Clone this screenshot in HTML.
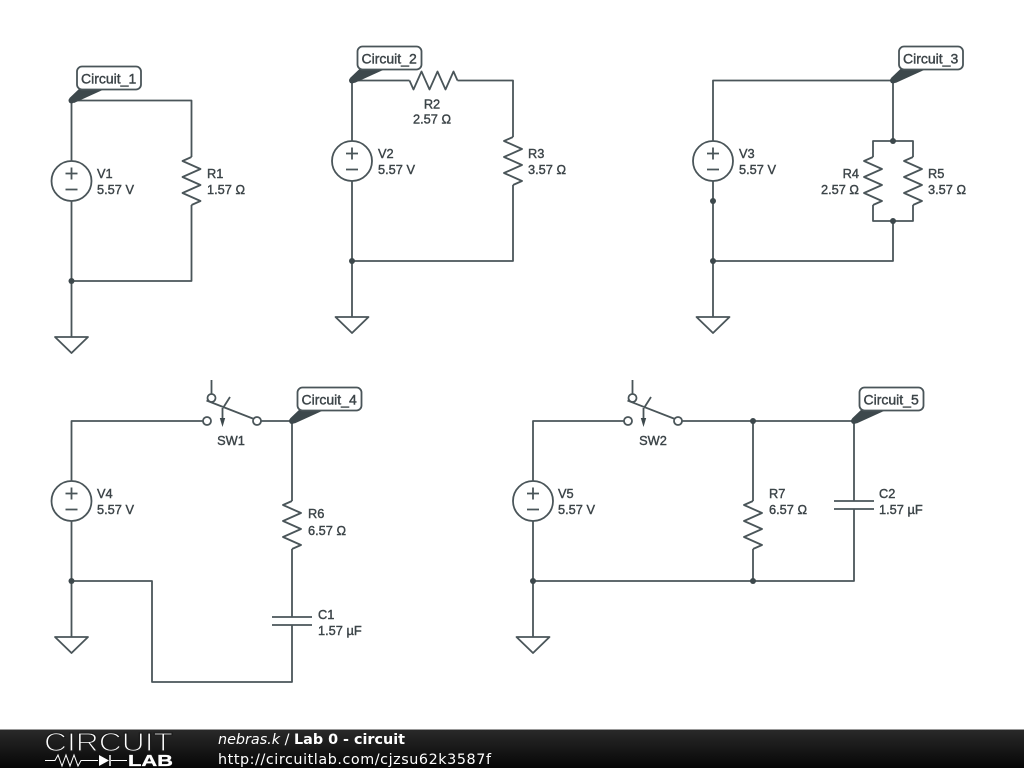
<!DOCTYPE html>
<html><head><meta charset="utf-8"><title>Lab 0 - circuit</title>
<style>
html,body{margin:0;padding:0;background:#fff;width:1024px;height:768px;overflow:hidden}
svg{display:block}
.w{fill:none;stroke:#4a5559;stroke-width:1.8;stroke-linejoin:round}
.d{fill:#3d484c}
.l{font:12.8px "Liberation Sans",sans-serif;fill:#3c4448;stroke:#3c4448;stroke-width:.4}
.c{font:14px "Liberation Sans",sans-serif;fill:#3c4448;stroke:#3c4448;stroke-width:.4}
.b{fill:#fff;stroke:#4a5559;stroke-width:1.8}
.f{font-family:"DejaVu Sans",sans-serif;font-size:14.35px;fill:#fff}
</style></head><body>
<svg width="1024" height="768" viewBox="0 0 1024 768" xmlns="http://www.w3.org/2000/svg">
<defs>
<g id="v"><circle class="w" r="20"/><path class="w" d="M-6-7.500H6M0-13.500V-1.500M-6 8.500H6"/></g>
<polyline id="rv" class="w" points="0,0 -9,4 9,12 -9,20 9,28 -9,36 9,44 0,48"/>
<polyline id="rh" class="w" points="0,0 4,9 12,-9 20,9 28,-9 36,9 44,-9 48,0"/>
<path id="gnd" class="w" d="M-16.500 0H16.500L0 16Z"/>
<path id="cap" class="w" d="M-20 0H20M-20 8H20"/>
<path id="fl" class="d" d="M-2 -2.500L8.500 -12.500H35.500L2.500 2.500Z"/>
<g id="sw"><circle class="w" cx="0" cy="0" r="4"/><circle class="w" cx="50" cy="0" r="4"/><circle class="w" cx="4.500" cy="-23" r="4"/><path class="w" d="M4.500-27V-41M-.5-20.500L47-2M23-24L16-13M15.500-13V-1" stroke-width="2"/><path class="d" d="M12.800-3H18.200L15.500 6Z"/></g>
</defs>

<!-- Circuit 1 -->
<path class="w" d="M71.500 161V100.500H191.500V157M191.500 205V281H71.500V201M71.500 281V337"/>
<use href="#v" x="71.500" y="181"/><use href="#rv" x="191.500" y="157"/><use href="#gnd" x="71.500" y="337"/>
<circle class="d" cx="71.500" cy="281" r="3"/>
<text class="l" x="97" y="178">V1</text><text class="l" x="97" y="194">5.57 V</text>
<text class="l" x="207" y="178">R1</text><text class="l" x="207" y="194">1.57 Ω</text>
<use href="#fl" x="71.500" y="100.500"/><circle class="d" cx="71.500" cy="100.500" r="3"/>
<rect class="b" x="77" y="66.500" width="64" height="23" rx="5"/><text class="c" x="81" y="83.500">Circuit_1</text>

<!-- Circuit 2 -->
<path class="w" d="M352 141V80.500H409.500M457.500 80.500H513V137M513 185V261H352V181M352 261V317"/>
<use href="#v" x="352" y="161"/><use href="#rh" x="409.500" y="80.500"/><use href="#rv" x="513" y="137"/><use href="#gnd" x="352" y="317"/>
<circle class="d" cx="352" cy="261" r="3"/>
<text class="l" x="432" y="108.500" text-anchor="middle">R2</text><text class="l" x="432" y="123.500" text-anchor="middle">2.57 Ω</text>
<text class="l" x="378" y="158">V2</text><text class="l" x="378" y="174">5.57 V</text>
<text class="l" x="528" y="158">R3</text><text class="l" x="528" y="174">3.57 Ω</text>
<use href="#fl" x="352" y="80.500"/><circle class="d" cx="352" cy="80.500" r="3"/>
<rect class="b" x="357.500" y="46.500" width="64" height="23" rx="5"/><text class="c" x="361.500" y="63.500">Circuit_2</text>

<!-- Circuit 3 -->
<path class="w" d="M713 141V80.500H893V141M873 157V141H913V157M873 205V221H913V205M893 221V261H713V181M713 261V317"/>
<use href="#v" x="713" y="161"/><use href="#rv" x="873" y="157"/><use href="#rv" x="913" y="157"/><use href="#gnd" x="713" y="317"/>
<circle class="d" cx="713" cy="201" r="3"/><circle class="d" cx="713" cy="261" r="3"/><circle class="d" cx="893" cy="141" r="3"/><circle class="d" cx="893" cy="221" r="3"/>
<text class="l" x="739" y="158">V3</text><text class="l" x="739" y="174">5.57 V</text>
<text class="l" x="859" y="178" text-anchor="end">R4</text><text class="l" x="859" y="194" text-anchor="end">2.57 Ω</text>
<text class="l" x="928" y="178">R5</text><text class="l" x="928" y="194">3.57 Ω</text>
<use href="#fl" x="893" y="80.500"/><circle class="d" cx="893" cy="80.500" r="3"/>
<rect class="b" x="899" y="46.500" width="64" height="23" rx="5"/><text class="c" x="903" y="63.500">Circuit_3</text>

<!-- Circuit 4 -->
<path class="w" d="M71.500 481V421H203M261 421H292V501M292 549V617M292 625V682H152V581H71.500V521M71.500 581V637"/>
<use href="#v" x="71.500" y="501"/><use href="#sw" x="207" y="421"/><use href="#rv" x="292" y="501"/><use href="#cap" x="292" y="617"/><use href="#gnd" x="71.500" y="637"/>
<circle class="d" cx="71.500" cy="581" r="3"/>
<text class="l" x="97" y="498">V4</text><text class="l" x="97" y="514">5.57 V</text>
<text class="l" x="231" y="445" text-anchor="middle">SW1</text>
<text class="l" x="308" y="518">R6</text><text class="l" x="308" y="535">6.57 Ω</text>
<text class="l" x="318" y="619">C1</text><text class="l" x="318" y="635">1.57 µF</text>
<use href="#fl" x="292" y="421"/><circle class="d" cx="292" cy="421" r="3"/>
<rect class="b" x="297.500" y="387.500" width="64" height="23" rx="5"/><text class="c" x="301.500" y="404.500">Circuit_4</text>

<!-- Circuit 5 -->
<path class="w" d="M533 481V421H624M682 421H854V501M854 509V581H533V521M533 581V637M753 421V501M753 549V581"/>
<use href="#v" x="533" y="501"/><use href="#sw" x="628" y="421"/><use href="#rv" x="753" y="501"/><use href="#cap" x="854" y="501"/><use href="#gnd" x="533" y="637"/>
<circle class="d" cx="753" cy="421" r="3"/><circle class="d" cx="533" cy="581" r="3"/><circle class="d" cx="753" cy="581" r="3"/>
<text class="l" x="558" y="498">V5</text><text class="l" x="558" y="514">5.57 V</text>
<text class="l" x="653" y="445" text-anchor="middle">SW2</text>
<text class="l" x="769" y="498">R7</text><text class="l" x="769" y="514">6.57 Ω</text>
<text class="l" x="879" y="498">C2</text><text class="l" x="879" y="514">1.57 µF</text>
<use href="#fl" x="854" y="421"/><circle class="d" cx="854" cy="421" r="3"/>
<rect class="b" x="859.500" y="387.500" width="64" height="23" rx="5"/><text class="c" x="863.500" y="404.500">Circuit_5</text>

<!-- Footer -->
<defs><linearGradient id="g" x1="0" y1="0" x2="0" y2="1"><stop offset="0" stop-color="#2a2a2a"/><stop offset="1" stop-color="#060606"/></linearGradient></defs>
<rect x="0" y="729" width="1024" height="39" fill="url(#g)"/>
<rect x="0" y="729" width="1024" height="1" fill="#999"/>
<text x="44" y="751" font-family="Liberation Sans, sans-serif" font-size="25.500" fill="#fff" stroke="#1c1c1c" stroke-width="1.150" textLength="129" lengthAdjust="spacingAndGlyphs">CIRCUIT</text>
<path d="M45 760.500H55L58 755L62 766L66 755L70 766L74 755L78 766L81 760.500H98M111 760.500H127" stroke="#fff" stroke-width="1" fill="none"/>
<path d="M99 755L109 760.500L99 766Z" fill="#fff"/><path d="M110 755V766" stroke="#fff" stroke-width="1.500"/>
<text x="128" y="766" font-family="Liberation Sans, sans-serif" font-size="16" font-weight="bold" fill="#fff" stroke="#fff" stroke-width=".3" textLength="45" lengthAdjust="spacingAndGlyphs">LAB</text>
<text class="f" x="218" y="744"><tspan font-style="oblique">nebras.k</tspan> / <tspan font-weight="bold">Lab 0 - circuit</tspan></text>
<text class="f" x="218" y="764" textLength="273">http://circuitlab.com/cjzsu62k3587f</text>
</svg>
</body></html>
